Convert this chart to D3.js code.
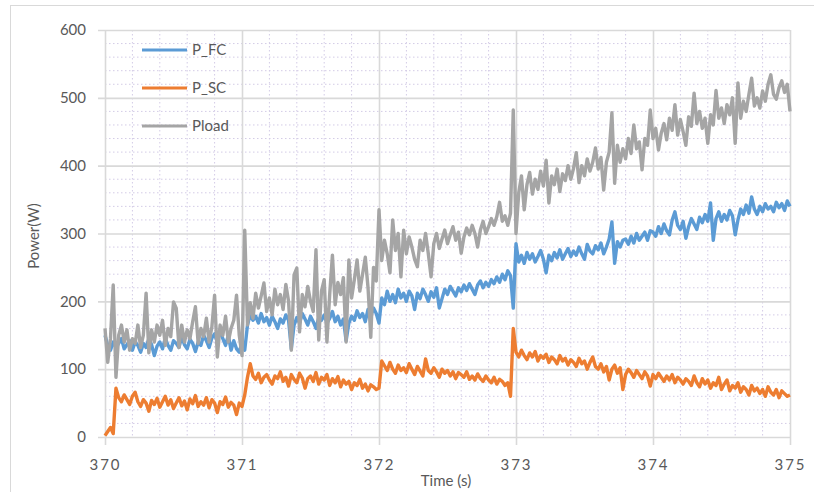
<!DOCTYPE html>
<html><head><meta charset="utf-8">
<script src="https://cdn.jsdelivr.net/npm/d3@7"></script>
<style>html,body{margin:0;padding:0;background:#fff;} svg{display:block;font-family:Lato,"Open Sans",sans-serif;}</style>
</head><body>
<svg id="chart" width="814" height="492"></svg>
<script>
// sampling of the recorded signals
const tStart = 370, tStep = 0.02;
const xTicks = [370, 371, 372, 373, 374, 375];
const yTicks = [0, 100, 200, 300, 400, 500, 600];
const seriesNames = ["P_FC", "P_SC", "Pload"];
const seriesColors = ["#5B9BD5", "#ED7D31", "#A5A5A5"];

const P_FC = [150,135,128,140,132,138,145,130,136,142,
128,140,135,125,138,132,145,136,120,134,
140,130,146,135,128,142,138,132,148,136,
130,144,138,126,140,135,150,142,132,146,
152,140,158,145,135,150,128,142,130,125,
140,128,165,180,172,178,168,182,170,176,
165,178,170,160,174,168,180,172,130,165,
176,168,182,174,165,178,170,160,176,172,
180,168,175,185,170,178,165,174,142,168,
178,172,186,176,182,170,188,178,190,182,
168,205,195,215,200,210,198,218,205,212,
200,215,208,188,212,204,218,210,200,214,
206,220,190,204,218,210,222,215,208,220,
214,224,216,226,218,210,224,230,220,228,
222,232,226,236,228,240,232,245,238,190,
285,258,268,256,272,262,270,258,266,275,
262,242,268,260,272,264,276,262,270,278,
266,274,268,280,270,262,284,274,270,282,
276,286,270,280,292,317,256,288,280,290,
292,284,296,286,300,290,296,302,290,304,
302,296,310,300,314,304,298,320,332,312,
306,318,293,310,322,314,306,324,316,328,
318,345,290,322,332,318,328,320,334,326,
298,320,336,328,342,330,354,336,328,340,
332,344,336,340,332,346,338,344,334,348,340];

const P_SC = [2,8,14,5,72,58,52,62,55,48,
60,66,52,45,55,50,38,54,48,57,
44,52,60,47,55,42,50,58,46,53,
40,56,49,61,45,52,47,58,43,55,
50,36,52,48,59,44,51,47,33,50,
45,62,88,108,90,85,94,80,88,92,
84,78,90,86,96,82,88,75,92,85,
80,94,87,72,86,90,82,95,78,88,
84,92,76,86,80,89,74,84,78,82,
70,80,76,85,72,78,68,77,74,70,
72,112,105,98,110,100,94,106,98,102,
95,108,100,92,104,97,90,115,98,94,
102,96,88,100,94,98,90,96,86,95,
92,88,96,85,90,84,93,86,82,90,
84,80,88,78,85,82,76,80,60,160,
125,118,128,120,114,124,118,126,112,120,
116,122,110,118,114,108,120,112,116,106,
114,110,104,116,108,112,100,110,118,104,
100,108,96,104,84,100,106,94,102,70,
92,100,95,88,98,92,86,96,90,75,
92,86,94,88,82,90,84,92,80,88,
84,78,86,82,76,90,80,74,86,78,
84,72,80,76,88,70,78,84,68,76,
72,80,66,74,70,62,76,68,72,64,
70,60,74,66,62,70,58,68,64,60,62];

const Pload = [160,110,145,224,88,150,165,140,158,128,
145,138,165,132,150,212,124,158,140,165,
150,172,135,160,148,199,190,132,165,140,
158,145,170,192,138,160,148,175,140,162,
209,118,165,150,178,140,160,172,209,150,
120,305,165,198,175,212,190,208,227,185,
205,180,218,195,210,188,225,200,128,239,
249,155,210,192,222,200,185,276,143,215,
232,140,210,268,195,228,210,235,140,261,
205,232,261,215,240,265,220,147,250,230,
335,260,290,270,242,320,275,300,236,305,
270,295,280,262,251,290,275,300,270,236,
285,300,278,292,305,285,298,310,290,302,
271,295,308,298,312,300,280,305,318,300,
310,322,312,325,346,318,326,312,330,482,
300,360,385,335,372,390,358,380,365,392,
370,408,345,385,372,395,362,388,378,400,
380,396,419,375,400,385,410,392,405,426,
395,412,364,405,420,478,374,430,405,425,
410,440,418,460,425,435,394,440,430,482,
440,455,423,448,462,438,470,452,490,445,
468,450,430,472,458,507,462,480,455,470,
433,475,460,511,470,485,462,490,475,500,
433,522,470,495,480,505,529,488,500,485,
510,495,520,534,505,498,515,525,508,520,480];

const series = [P_FC, P_SC, Pload];

const svg = d3.select("#chart");
const L = 105, R = 790, T = 30, B = 437;
const x = d3.scaleLinear().domain([370, 375]).range([L, R]);
const y = d3.scaleLinear().domain([0, 600]).range([B, T]);

// chart area border
svg.append("rect").attr("x", 10.5).attr("y", 5.5).attr("width", 830).attr("height", 500)
  .attr("fill", "none").attr("stroke", "#d9d9d9").attr("stroke-width", 1);

// minor grid
const g = svg.append("g");
const minorX = d3.range(0, 26).map(i => 370 + i * 0.2).filter(v => Math.abs(v - Math.round(v)) > 1e-6);
const minorY = d3.range(0, 31).map(i => i * 20).filter(v => v % 100 !== 0);
g.selectAll(".mx").data(minorX).join("line")
  .attr("x1", d => x(d)).attr("x2", d => x(d)).attr("y1", T).attr("y2", B)
  .attr("stroke", "#d3cbe6").attr("stroke-width", 1).attr("stroke-dasharray", "1.5,2.5");
g.selectAll(".my").data(minorY).join("line")
  .attr("x1", L).attr("x2", R).attr("y1", d => y(d)).attr("y2", d => y(d))
  .attr("stroke", "#d3cbe6").attr("stroke-width", 1).attr("stroke-dasharray", "1.5,2.5");

// major grid via axes
const yAxis = d3.axisLeft(y).tickValues(yTicks).tickSize(-(R - L) - 7).tickPadding(12);
const ya = svg.append("g").attr("transform", `translate(${R},0)`).call(yAxis);
ya.select(".domain").remove();
ya.selectAll(".tick line").attr("stroke", "#d9d9d9").attr("stroke-width", 1.6).attr("x1", 0).attr("x2", -(R - L) - 7);
ya.selectAll(".tick text").attr("x", -(R - 86)).attr("text-anchor", "end")
  .attr("fill", "#595959").style("font-size", "15px").style("font-family", "Lato, 'Open Sans', sans-serif");

const xAxis = d3.axisBottom(x).tickValues(xTicks).tickFormat(d3.format("d")).tickSize(B - T + 8);
const xa = svg.append("g").attr("transform", `translate(0,${T})`).call(xAxis);
xa.select(".domain").remove();
xa.selectAll(".tick line").attr("stroke", "#d9d9d9").attr("stroke-width", 1.6);
xa.selectAll(".tick text").attr("y", B - T + 22).attr("dy", "0.71em")
  .attr("fill", "#595959").style("font-size", "15px").style("letter-spacing", "2px")
  .style("font-family", "Lato, 'Open Sans', sans-serif");

// lines
const line = d3.line().x((d, i) => x(tStart + i * tStep)).y(d => y(d));
series.forEach((s, k) => {
  svg.append("path").datum(s).attr("d", line).attr("fill", "none")
    .attr("stroke", seriesColors[k]).attr("stroke-width", 3.4).attr("stroke-linejoin", "round");
});

// legend
const legY = [50, 88, 126];
seriesNames.forEach((n, k) => {
  svg.append("line").attr("x1", 142).attr("x2", 187).attr("y1", legY[k]).attr("y2", legY[k])
    .attr("stroke", seriesColors[k]).attr("stroke-width", 3);
  svg.append("text").attr("x", 192).attr("y", legY[k]).attr("dy", "0.35em")
    .attr("fill", "#595959").style("font-size", "15px").text(n);
});

// axis titles
svg.append("text").attr("x", 446).attr("y", 486).attr("text-anchor", "middle")
  .attr("fill", "#595959").style("font-size", "15px").text("Time (s)");
svg.append("text").attr("transform", "translate(39,236) rotate(-90)").attr("text-anchor", "middle")
  .attr("fill", "#595959").style("font-size", "15px").text("Power(W)");
</script>
</body></html>
